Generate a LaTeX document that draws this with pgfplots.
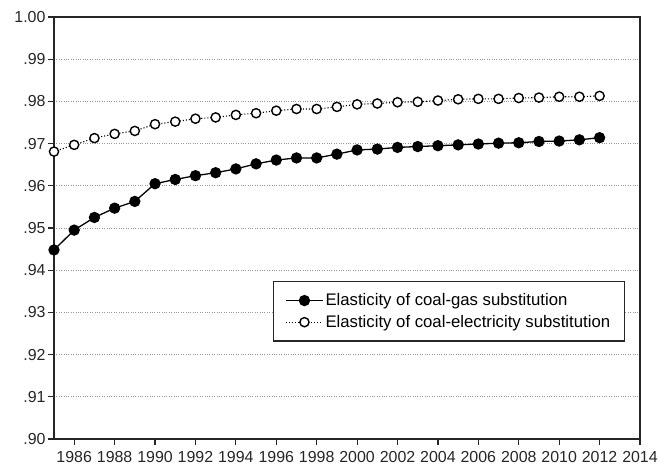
\documentclass[border=0pt]{standalone}
\usepackage{pgfplots}
\pgfplotsset{compat=1.18}
\usepackage{fontspec}
\setmainfont{Liberation Sans}
\begin{document}
\begin{tikzpicture}[font=\fontsize{16}{19}\selectfont]
\begin{axis}[name=ax,
  scale only axis, width=586bp, height=422bp,
  xmin=1985, xmax=2014, ymin=0.90, ymax=1.00,
  clip=false,
  axis line style={line width=1.4bp, black!85},
  xtick={1986,1988,...,2014},
  xticklabels={1986,1988,1990,1992,1994,1996,1998,2000,2002,2004,2006,2008,2010,2012,2014},
  ytick={0.90,0.91,0.92,0.93,0.94,0.95,0.96,0.97,0.98,0.99,1.00},
  yticklabels={.90,.91,.92,.93,.94,.95,.96,.97,.98,.99,1.00},
  tick align=outside, xtick pos=bottom, ytick pos=left,
  major tick length=6bp,
  tick style={line width=1.2bp, black!85},
  ymajorgrids, major grid style={dotted, gray!80, line width=0.8bp},
  every tick label/.style={font=\fontsize{16}{18}\selectfont, text=black!85},
  /pgf/number format/assume math mode=true,
  xticklabel style={yshift=-3bp},
  yticklabel style={xshift=1bp},
  legend style={at={(0.974,0.374)}, anchor=north east, draw=black!85, line width=1.2bp,
    font=\fontsize{16.8}{19}\selectfont, row sep=4bp, inner xsep=12bp, inner ysep=10bp,
    /tikz/every even column/.append style={column sep=3bp}},
  legend cell align=left,
  legend image code/.code={\draw[mark repeat=2,mark phase=2,#1] plot coordinates {(0cm,0cm) (0.65cm,0cm) (1.3cm,0cm)};},
]
\addplot[black, line width=1.3bp, mark=*, mark size=5bp, mark options={solid, fill=black}] coordinates {
(1985,0.9448) (1986,0.9495) (1987,0.9525) (1988,0.9547) (1989,0.9563) (1990,0.9605)
(1991,0.9615) (1992,0.9624) (1993,0.9631) (1994,0.9640) (1995,0.9652) (1996,0.9661)
(1997,0.9666) (1998,0.9666) (1999,0.9675) (2000,0.9685) (2001,0.9687) (2002,0.9691)
(2003,0.9693) (2004,0.9695) (2005,0.9697) (2006,0.9699) (2007,0.9701) (2008,0.9702)
(2009,0.9705) (2010,0.9706) (2011,0.9709) (2012,0.9714)};
\addlegendentry{Elasticity of coal-gas substitution}
\addplot[black, dotted, line width=1.1bp, mark=*, mark size=4.6bp, mark options={solid, draw=black, fill=white, line width=1.4bp}] coordinates {
(1985,0.9681) (1986,0.9697) (1987,0.9713) (1988,0.9723) (1989,0.9730) (1990,0.9746)
(1991,0.9752) (1992,0.9759) (1993,0.9762) (1994,0.9768) (1995,0.9772) (1996,0.9778)
(1997,0.9782) (1998,0.9782) (1999,0.9787) (2000,0.9793) (2001,0.9795) (2002,0.9798)
(2003,0.9799) (2004,0.9802) (2005,0.9805) (2006,0.9806) (2007,0.9806) (2008,0.9808)
(2009,0.9809) (2010,0.9811) (2011,0.9811) (2012,0.9813)};
\addlegendentry{Elasticity of coal-electricity substitution}
\end{axis}
\pgfresetboundingbox
\path[use as bounding box] ([shift={(-54bp,-34bp)}]ax.south west) rectangle ([shift={(18bp,17bp)}]ax.north east);
\end{tikzpicture}
\end{document}
